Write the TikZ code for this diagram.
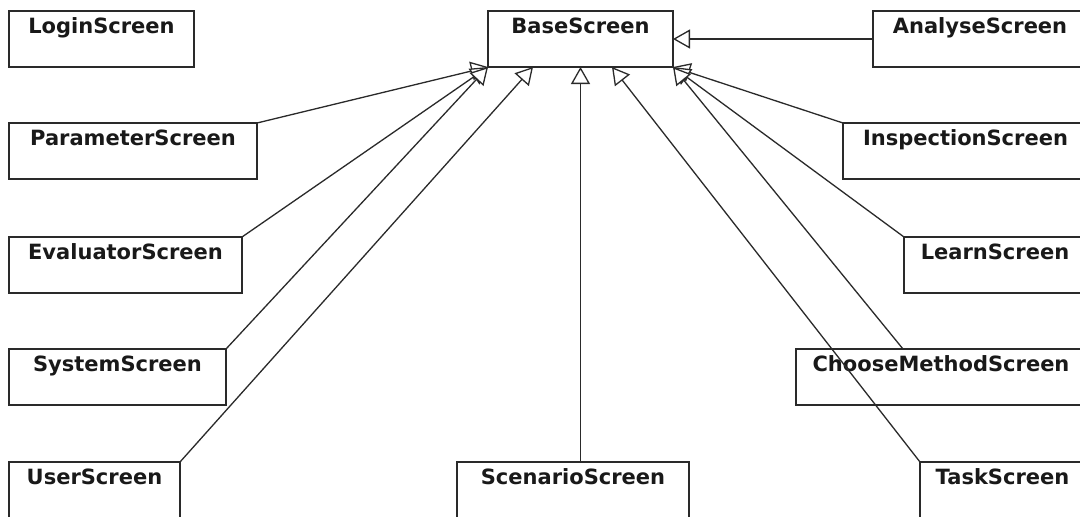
\documentclass[tikz,border=0pt]{standalone}
\usepackage{fontspec}
\setmainfont{DejaVu Sans}
\usetikzlibrary{arrows.meta,calc}
\definecolor{linecol}{HTML}{2A2A2A}
\tikzset{
  cls/.style={draw=linecol, line width=1.3pt, inner sep=0pt, outer sep=0pt,
    text height=22.3pt, text depth=33.7pt, align=center, anchor=north west,
    font=\fontsize{21}{25}\selectfont\bfseries, text=black!90},
  gen/.style={draw=linecol, line width=1.3pt,
    -{Triangle[length=17pt,width=19pt,fill=white,line width=1.3pt]}}
}
\begin{document}
\begin{tikzpicture}[x=1pt,y=-1pt]
\useasboundingbox (0,0) rectangle (1080,517);
\clip (0,0) rectangle (1080,517);
\fill[white] (0,0) rectangle (1080,517);
% classes
\node[cls, text width=185pt] (login)  at (9,11)   {LoginScreen};
\node[cls, text width=185pt] (base)   at (488,11) {BaseScreen};
\node[cls, text width=214pt] (analyse) at (873,11) {AnalyseScreen};
\node[cls, text width=248pt] (param)  at (9,123)  {ParameterScreen};
\node[cls, text width=245pt] (insp)   at (843,123) {InspectionScreen};
\node[cls, text width=233pt] (eval)   at (9,237)  {EvaluatorScreen};
\node[cls, text width=182pt] (learn)  at (904,237) {LearnScreen};
\node[cls, text width=217pt] (system) at (9,349)  {SystemScreen};
\node[cls, text width=290pt] (choose) at (796,349) {ChooseMethodScreen};
\node[cls, text width=171pt] (user)   at (9,462)  {UserScreen};
\node[cls, text width=232pt] (scen)   at (457,462) {ScenarioScreen};
\node[cls, text width=165pt] (task)   at (920,462) {TaskScreen};
% attachment points
\coordinate (userTip) at ($(base.south west)+(45,0)$);
\coordinate (scenTop) at (base.south |- scen.north);
\coordinate (taskTip) at ($(base.south west)+(124,0)$);
\coordinate (chooseTop) at ($(choose.north west)+(107,0)$);
% generalizations
\draw[gen] (analyse.west |- base.east) -- (base.east);
\draw[gen] (param.north east) -- (base.south west);
\draw[gen] (eval.north east) -- (base.south west);
\draw[gen] (system.north east) -- (base.south west);
\draw[gen] (user.north east) -- (userTip);
\draw[gen] (scenTop) -- (base.south);
\draw[gen] (task.north west) -- (taskTip);
\draw[gen] (insp.north west) -- (base.south east);
\draw[gen] (learn.north west) -- (base.south east);
\draw[gen] (chooseTop) -- (base.south east);
\end{tikzpicture}
\end{document}
